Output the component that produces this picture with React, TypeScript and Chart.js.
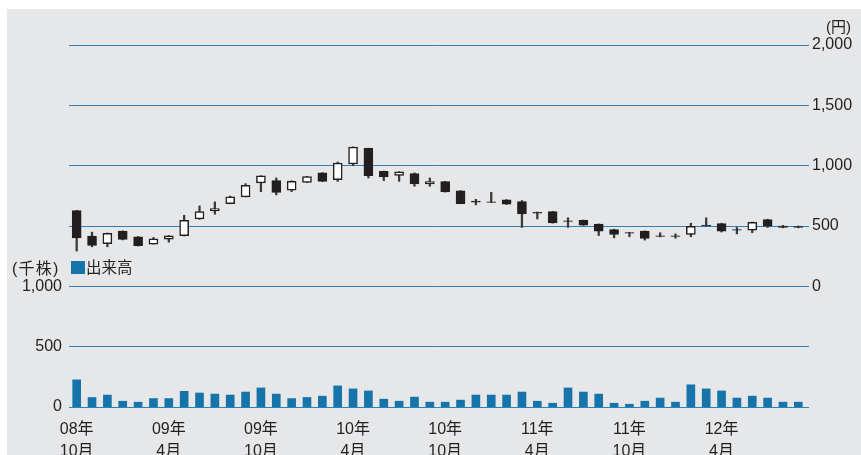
import React, { useEffect, useRef } from 'react';
import { Chart, registerables } from 'chart.js';

Chart.register(...registerables);

const months = [
  '08年10月', '08年11月', '08年12月', '09年1月', '09年2月', '09年3月',
  '09年4月', '09年5月', '09年6月', '09年7月', '09年8月', '09年9月',
  '09年10月', '09年11月', '09年12月', '10年1月', '10年2月', '10年3月',
  '10年4月', '10年5月', '10年6月', '10年7月', '10年8月', '10年9月',
  '10年10月', '10年11月', '10年12月', '11年1月', '11年2月', '11年3月',
  '11年4月', '11年5月', '11年6月', '11年7月', '11年8月', '11年9月',
  '11年10月', '11年11月', '11年12月', '12年1月', '12年2月', '12年3月',
  '12年4月', '12年5月', '12年6月', '12年7月', '12年8月', '12年9月',
];

const labeledMonths = ['08年10月', '09年4月', '09年10月', '10年4月', '10年10月', '11年4月', '11年10月', '12年4月'];

const openPrice = [628, 416, 353, 457, 411, 350, 391, 419, 559, 625, 686, 741, 857, 876, 796, 862, 940, 884, 1014, 1143, 953, 920, 934, 849, 868, 791, 706, 700, 717, 702, 614, 620, 543, 548, 515, 471, 446, 457, 418, 418, 430, 508, 521, 471, 465, 554, 500, 496];
const closePrice = [402, 339, 440, 388, 336, 394, 419, 548, 620, 645, 741, 837, 915, 779, 870, 909, 870, 1022, 1154, 917, 907, 948, 849, 868, 783, 686, 698, 696, 680, 601, 606, 526, 537, 507, 457, 430, 440, 397, 413, 414, 498, 500, 457, 466, 531, 498, 488, 488];
const highPrice = [630, 449, 442, 460, 413, 405, 421, 589, 667, 700, 748, 851, 917, 898, 875, 912, 942, 1030, 1156, 1145, 955, 950, 940, 898, 870, 793, 721, 779, 719, 711, 616, 622, 568, 550, 517, 473, 448, 459, 444, 435, 523, 568, 523, 488, 533, 556, 505, 500];
const lowPrice = [292, 328, 328, 385, 334, 350, 366, 417, 555, 598, 684, 741, 785, 758, 785, 860, 868, 870, 1000, 898, 876, 870, 829, 829, 781, 684, 675, 694, 678, 488, 559, 524, 488, 505, 421, 402, 411, 383, 410, 399, 411, 498, 450, 435, 444, 488, 485, 485];

const volume = [225, 79, 99, 48, 40, 70, 70, 130, 116, 107, 99, 124, 158, 107, 70, 79, 90, 175, 150, 133, 65, 48, 82, 40, 40, 57, 99, 99, 99, 124, 48, 31, 158, 124, 107, 31, 23, 48, 74, 40, 184, 150, 133, 74, 90, 74, 40, 40];

const FONT = '"Liberation Sans", "Noto Sans CJK JP", sans-serif';
const TEXT = '#231f20';
const BLUE = '#1674ab';
const GRID = '#2f7fb9';

export default function App() {
  const ref = useRef<HTMLCanvasElement | null>(null);

  useEffect(() => {
    if (!ref.current) return;
    const bodies = openPrice.map((o, i) => [o, closePrice[i]]);
    const wicks = lowPrice.map((l, i) => [l, highPrice[i]]);
    const bodyColors = openPrice.map((o, i) => (closePrice[i] >= o ? '#ffffff' : TEXT));

    const chart = new Chart(ref.current, {
      type: 'bar',
      data: {
        labels: months,
        datasets: [
          {
            label: 'body',
            data: bodies as any,
            yAxisID: 'yP',
            backgroundColor: bodyColors,
            borderColor: TEXT,
            borderWidth: 1.5,
            borderSkipped: false,
            barThickness: 9,
            grouped: false,
            order: 0,
          } as any,
          {
            label: 'wick',
            data: wicks as any,
            yAxisID: 'yP',
            backgroundColor: '#3a3a3a',
            borderWidth: 0,
            barThickness: 1.6,
            grouped: false,
            order: 1,
          } as any,
          {
            label: '出来高',
            data: volume,
            yAxisID: 'yV',
            backgroundColor: BLUE,
            borderWidth: 0,
            barThickness: 8,
            grouped: false,
            order: 2,
          } as any,
        ],
      },
      options: {
        responsive: false,
        animation: false,
        layout: { padding: { top: 45, left: 0, right: 0, bottom: 0 } },
        plugins: { legend: { display: false }, tooltip: { enabled: false }, title: { display: false } },
        scales: {
          x: {
            offset: true,
            grid: { display: false, drawTicks: false },
            border: { display: false },
            ticks: {
              autoSkip: false,
              maxRotation: 0,
              minRotation: 0,
              padding: 12,
              color: TEXT,
              font: { family: FONT, size: 16, lineHeight: 1.375 },
              callback: (_v: any, i: number) => {
                const m = months[i];
                if (labeledMonths.includes(m)) {
                  const p = m.indexOf('年');
                  return [m.slice(0, p + 1), m.slice(p + 1)];
                }
                return '';
              },
            },
            afterFit: (s: any) => { s.height = 48; },
          },
          yP: {
            position: 'right',
            min: -1000,
            max: 2000,
            grid: { color: GRID, lineWidth: 1, drawTicks: true, tickLength: 3 },
            border: { display: false },
            ticks: {
              stepSize: 500,
              padding: 3,
              color: TEXT,
              font: { family: FONT, size: 16 },
              callback: (v: any) => (v >= 0 ? Number(v).toLocaleString('en-US') : ''),
            },
            afterFit: (s: any) => { s.width = 55; },
          },
          yV: {
            position: 'left',
            min: 0,
            max: 3000,
            grid: { display: false, drawTicks: false },
            border: { display: false },
            ticks: {
              stepSize: 500,
              padding: 7,
              color: TEXT,
              font: { family: FONT, size: 16 },
              callback: (v: any) => (v <= 1000 ? Number(v).toLocaleString('en-US') : ''),
            },
            afterFit: (s: any) => { s.width = 69; },
          },
        },
      } as any,
    });
    return () => chart.destroy();
  }, []);

  const txt: React.CSSProperties = { position: 'absolute', color: TEXT, fontFamily: FONT, whiteSpace: 'nowrap', lineHeight: 1 };

  return (
    <div style={{ position: 'fixed', left: 0, top: 0, width: 861, height: 455, background: '#ffffff', overflow: 'hidden' }}>
      <div style={{ position: 'absolute', left: 7, top: 9, right: 0, bottom: 0, background: '#e6e7e9' }} />
      <canvas ref={ref} width={861} height={455} style={{ position: 'absolute', left: 0, top: 0, width: 861, height: 455 }} />
      <span style={{ ...txt, left: 826, top: 19, fontSize: 15 }}>(円)</span>
      <span style={{ ...txt, left: 12, top: 261, fontSize: 16, letterSpacing: 1.2 }}>(千株)</span>
      <span style={{ position: 'absolute', left: 71, top: 261, width: 14, height: 13, background: BLUE }} />
      <span style={{ ...txt, left: 86, top: 260, fontSize: 15.5 }}>出来高</span>
    </div>
  );
}
